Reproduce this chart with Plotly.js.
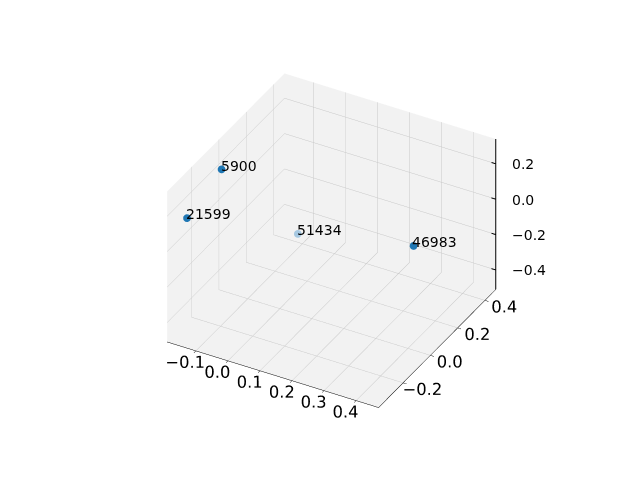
<!DOCTYPE html>
<html>
<head>
<meta charset="utf-8">
<script src="https://cdn.plot.ly/plotly-3.0.1.min.js"></script>
<style>html,body{margin:0;padding:0;background:#fff;}#chart{width:640px;height:480px;}</style>
</head>
<body>
<div id="chart"></div>
<script>
const labels = ["5900", "21599", "51434", "46983"];
const xs = [-0.12, -0.143, -0.12, 0.43];
const ys = [-0.146, -0.345, 0.413, -0.03];
const zs = [0.324, 0.19, -0.475, 0.11];
const pointColors = ["#1f77b4", "#1f77b4", "#a6c8e1", "#1f77b4"];

const xRange = [-0.19, 0.47];
const yRange = [-0.38, 0.48];
const zRange = [-0.51, 0.34];
const xTicks = [-0.1, 0.0, 0.1, 0.2, 0.3, 0.4];
const yTicks = [-0.2, 0.0, 0.2, 0.4];
const zTicks = [-0.4, -0.2, 0.0, 0.2];
const fmt = v => (v < 0 ? "\u2212" : "") + Math.abs(v).toFixed(1);

const font = {family: "DejaVu Sans", size: 14, color: "#000"};

const points = {
  type: "scatter3d",
  mode: "markers",
  x: xs, y: ys, z: zs,
  marker: {size: 4.5, color: pointColors},
  hoverinfo: "none"
};

// z axis drawn on the right-hand edge (x = max, y = max), as in the reference
const xEdge = xRange[1] - 0.0005 * (xRange[1] - xRange[0]);
const yEdge = yRange[1] - 0.0005 * (yRange[1] - yRange[0]);
const tickLen = 0.02 * (xRange[1] - xRange[0]);
const zLineX = [xEdge, xEdge], zLineY = [yEdge, yEdge], zLineZ = [zRange[0], zRange[1]];
zTicks.forEach(t => {
  zLineX.push(null, xEdge - tickLen, xEdge);
  zLineY.push(null, yEdge, yEdge);
  zLineZ.push(null, t, t);
});
const zAxisLine = {
  type: "scatter3d",
  mode: "lines",
  x: zLineX, y: zLineY, z: zLineZ,
  line: {color: "#000", width: 2},
  hoverinfo: "none",
  connectgaps: false
};

function axis(range, ticks) {
  return {
    title: {text: ""},
    range: range,
    autorange: false,
    tickvals: ticks,
    ticktext: ticks.map(fmt),
    tickangle: 0,
    showbackground: true,
    backgroundcolor: "#f2f2f2",
    gridcolor: "#c8c8c8",
    showline: true,
    linecolor: "#000",
    linewidth: 1,
    zeroline: false,
    ticks: "outside",
    ticklen: 4,
    tickcolor: "#000",
    showspikes: false,
    tickfont: font
  };
}
const zAxis = Object.assign(axis(zRange, zTicks), {showticklabels: false, ticks: "", showline: false});

const pointLabels = labels.map((t, i) => ({
  x: xs[i], y: ys[i], z: zs[i],
  text: t, showarrow: false,
  xanchor: "left", yanchor: "bottom",
  xshift: -3, yshift: -6,
  font: font
}));
const zTickLabels = zTicks.map(t => ({
  x: xEdge, y: yEdge, z: t,
  text: fmt(t), showarrow: false,
  xanchor: "left", yanchor: "middle",
  xshift: 14, yshift: 0,
  font: font
}));

const layout = {
  width: 640, height: 480,
  margin: {l: 0, r: 0, t: 0, b: 0},
  paper_bgcolor: "#fff",
  showlegend: false,
  scene: {
    domain: {x: [0.108, 0.928], y: [0.078, 0.918]},
    aspectmode: "manual",
    aspectratio: {x: 1.2, y: 1.2, z: 0.9},
    camera: {eye: {x: 0.737, y: -1.328, z: 1.024}, projection: {type: "orthographic"}},
    xaxis: axis(xRange, xTicks),
    yaxis: axis(yRange, yTicks),
    zaxis: zAxis,
    annotations: pointLabels.concat(zTickLabels)
  }
};

Plotly.newPlot("chart", [points, zAxisLine], layout, {displayModeBar: false});
</script>
</body>
</html>
